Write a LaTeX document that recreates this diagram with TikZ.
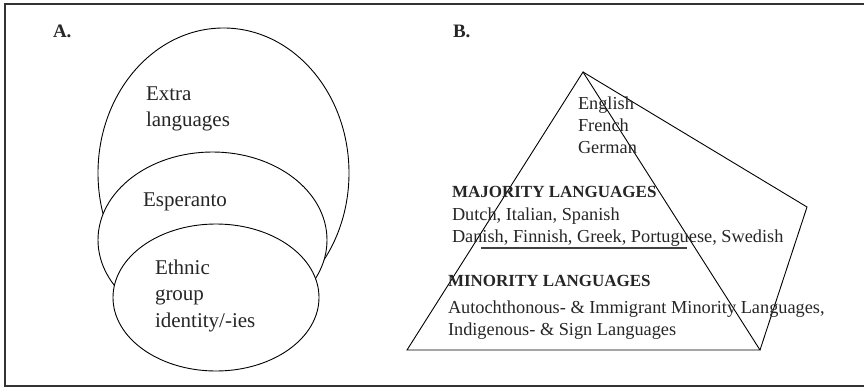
\documentclass[tikz,border=0pt]{standalone}
\usepackage{fontspec}
\setmainfont{Liberation Serif}
\usetikzlibrary{calc}
\tikzset{
  frm/.style = {line width=2.2pt, black!80},
  bub/.style = {draw, fill=white, line width=0.9pt},
  pyr/.style = {line width=0.9pt, line join=miter},
  big/.style = {anchor=base west, inner sep=0pt, outer sep=0pt,
                text=black!85, font=\fontsize{21}{26}\selectfont},
  txt/.style = {anchor=base west, inner sep=0pt, outer sep=0pt,
                text=black!85, font=\fontsize{18.3}{22}\selectfont},
  hdr/.style = {txt, font=\fontsize{17}{22}\selectfont\bfseries}
}

\begin{document}
\begin{tikzpicture}[x=1pt, y=-1pt]
  \useasboundingbox (0,0) rectangle (864,388);

  %% Frame (right side is cut off)
  \draw[frm] (864,4) -- (5,4) -- (5,386) -- (864,386);

  %% Panel A
  \node[hdr, font=\fontsize{19}{22}\selectfont\bfseries] (la) at (53,37) {A.};
  \draw[bub] (223.5,173) ellipse [x radius=125.5, y radius=145];
  \draw[bub] (212.5,240) ellipse [x radius=114.5, y radius=88];
  \draw[bub] (216,297.5) ellipse [x radius=103, y radius=73.5];

  \node[big] (ex1) at (146,100) {Extra};
  \node[big] (ex2) at (146,126) {languages};
  \node[big] (esp) at (143,206) {Esperanto};
  \node[big] (et1) at (155,274) {Ethnic};
  \node[big] (et2) at (155,300) {group};
  \node[big] (et3) at (155,327) {identity/-ies};

  %% Panel B
  \node[hdr, font=\fontsize{19}{22}\selectfont\bfseries] (lb) at (453,37) {B.};
  \coordinate (top) at (583,72);
  \coordinate (bl)  at (407,350);
  \coordinate (br)  at (760,350);
  \coordinate (rt)  at (807,207);
  \draw[pyr] (top) -- (bl) -- (br) -- cycle;
  \draw[pyr] (top) -- (rt) -- (br);
  \draw[line width=1.1pt, black!75] (481,248) -- (687,248);

  \node[txt] (en) at (578,109) {English};
  \node[txt] (fr) at (578,131) {French};
  \node[txt] (de) at (578,153) {German};

  \node[hdr] (maj)  at (452,197) {MAJORITY LANGUAGES};
  \node[txt] (maj1) at (452,220) {Dutch, Italian, Spanish};
  \node[txt] (maj2) at (452,242) {Danish, Finnish, Greek, Portuguese, Swedish};

  \node[hdr] (min)  at (448,286) {MINORITY LANGUAGES};
  \node[txt] (min1) at (448,313) {Autochthonous- \& Immigrant Minority Languages,};
  \node[txt] (min2) at (448,335) {Indigenous- \& Sign Languages};
\end{tikzpicture}
\end{document}
